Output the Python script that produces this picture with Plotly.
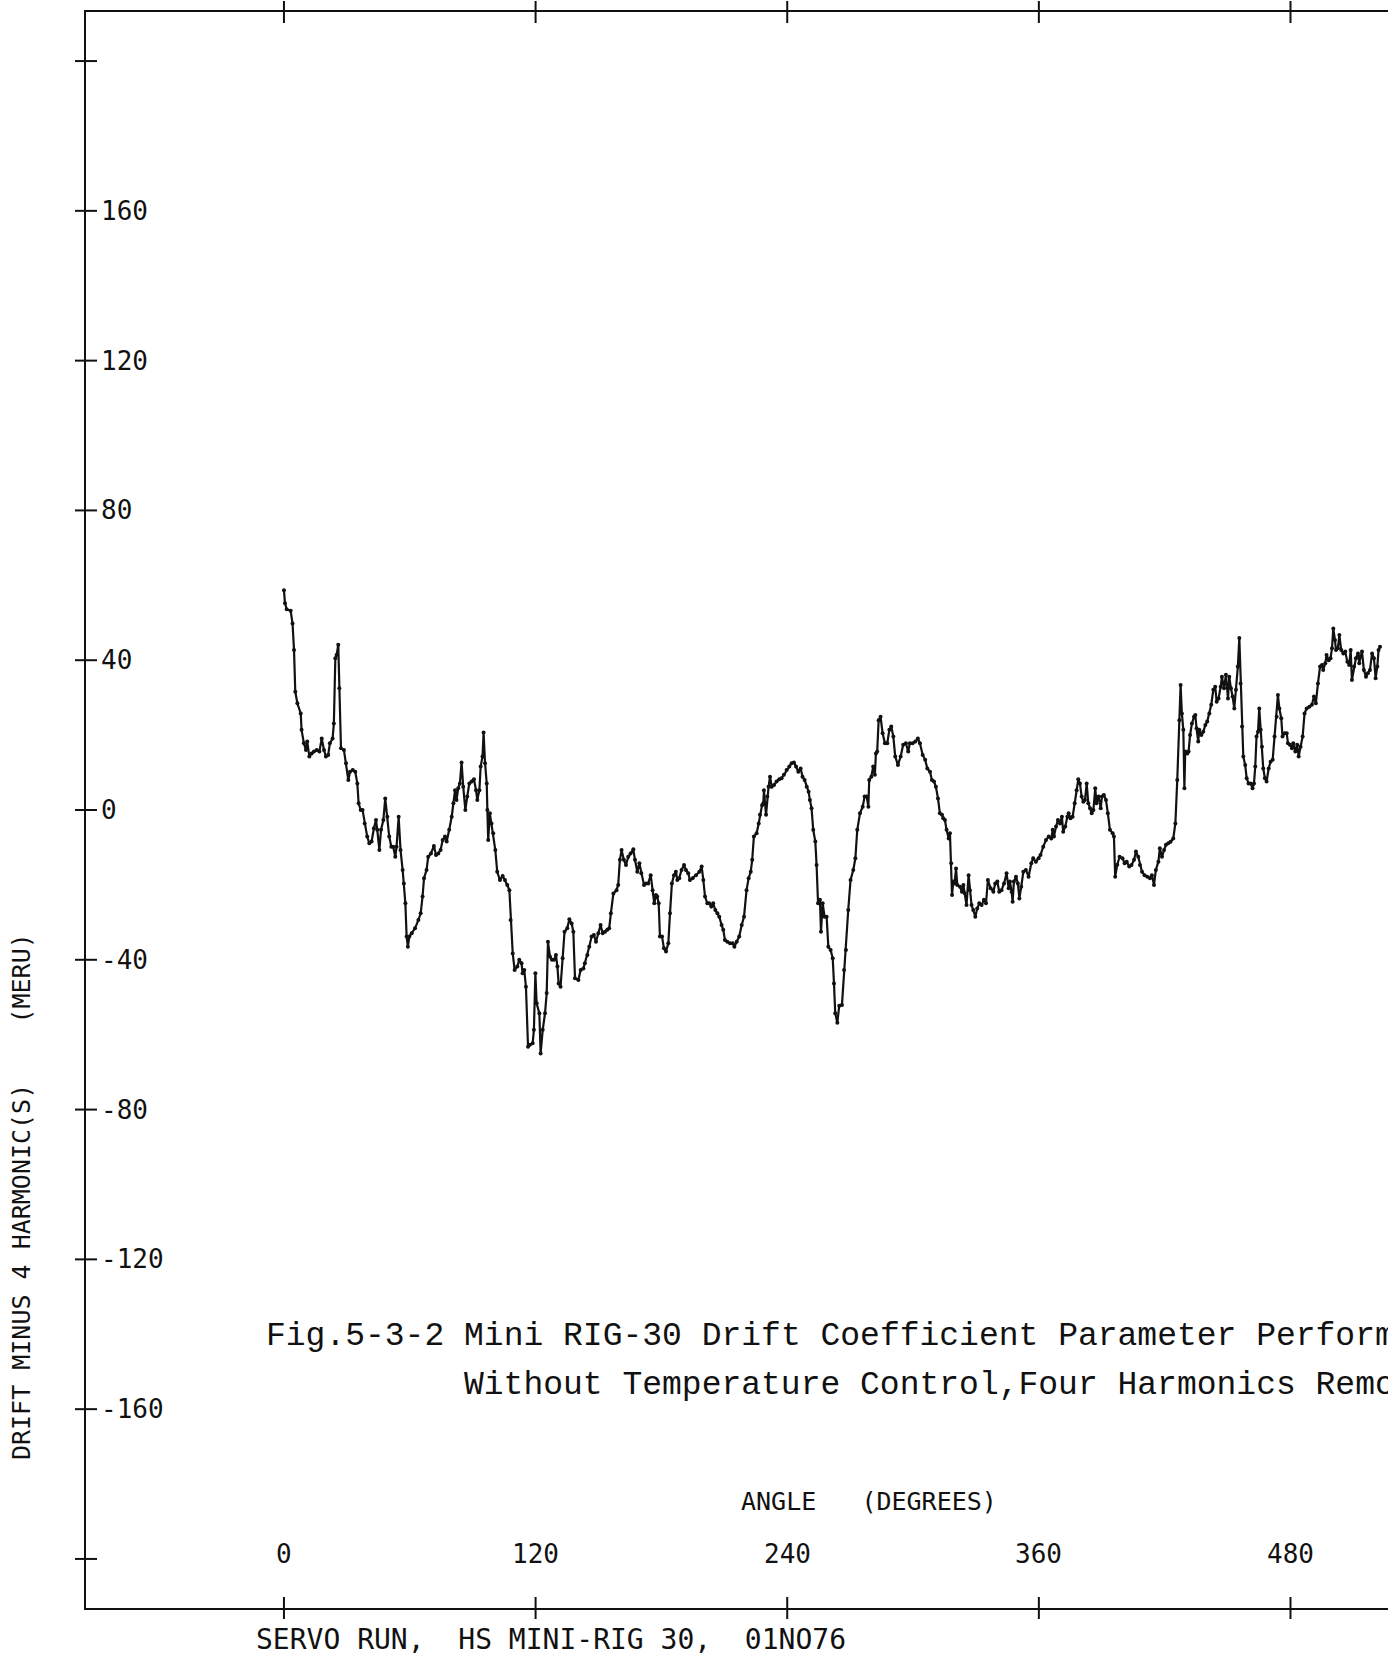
import plotly.graph_objects as go

# ---- data (angle in degrees, drift in MERU) ----
ANGLE_DEG = [
    0.0, 0.5, 1.3, 3.2, 4.1, 4.8, 5.4, 6.4, 8.0, 8.4, 9.5, 10.5, 11.1, 12.1, 13.2, 14.3, 15.6, 16.9, 18.0, 19.1,
    20.0, 21.1, 21.9, 23.2, 23.8, 24.5, 25.1, 25.9, 26.4, 27.2, 28.6, 29.6, 30.7, 31.5, 32.8, 34.0, 35.0, 35.6, 36.6, 37.5,
    38.5, 39.7, 40.7, 41.8, 42.9, 43.9, 44.5, 45.5, 46.3, 47.4, 48.3, 49.3, 50.2, 51.2, 52.1, 53.1, 53.7, 54.7, 55.6, 56.6,
    57.2, 57.9, 58.5, 59.1, 59.8, 60.9, 62.5, 64.1, 65.2, 66.1, 66.8, 68.0, 68.8, 70.1, 71.5, 72.5, 73.6, 74.7, 75.7, 76.8,
    77.6, 78.8, 80.0, 80.8, 81.6, 82.3, 83.1, 83.9, 84.7, 85.5, 86.5, 87.4, 88.4, 89.5, 90.6, 91.6, 92.2, 93.2, 93.8, 94.7,
    95.2, 95.9, 96.7, 97.0, 97.4, 98.2, 99.0, 99.8, 100.8, 101.7, 103.0, 104.3, 105.4, 106.5, 107.5, 108.1, 109.1, 110.0, 111.3, 112.2,
    113.3, 113.8, 114.6, 115.4, 116.4, 117.3, 118.6, 119.2, 119.9, 120.5, 121.8, 122.4, 123.4, 124.5, 125.3, 125.9, 126.9, 127.8, 128.8, 129.7,
    130.4, 131.0, 131.9, 132.9, 133.8, 135.1, 136.1, 137.2, 138.0, 138.8, 140.4, 141.5, 142.8, 143.5, 144.7, 145.6, 146.7, 147.8, 148.8, 149.9,
    151.0, 152.0, 153.1, 154.2, 155.1, 155.9, 157.1, 158.6, 159.4, 160.2, 161.0, 162.1, 163.1, 164.2, 165.3, 166.6, 167.4, 168.5, 169.5, 170.4,
    171.7, 172.6, 173.7, 174.9, 175.8, 176.6, 177.4, 178.0, 178.7, 179.3, 180.3, 181.2, 182.2, 183.3, 184.1, 185.0, 186.0, 186.9, 187.6, 188.5,
    189.6, 190.8, 191.7, 192.8, 193.6, 194.9, 196.5, 198.1, 199.2, 200.0, 200.8, 201.9, 202.8, 203.8, 204.7, 205.7, 206.7, 207.6, 208.7, 209.5,
    210.3, 211.4, 212.7, 214.0, 214.8, 215.9, 217.1, 218.3, 219.4, 220.6, 221.6, 222.6, 223.3, 224.1, 225.4, 226.4, 227.0, 228.0, 228.6, 228.9,
    229.9, 230.5, 231.1, 231.8, 232.6, 233.7, 234.9, 236.2, 237.3, 238.4, 239.7, 241.0, 242.1, 243.2, 244.2, 245.3, 246.4, 247.3, 248.3, 249.3,
    250.2, 250.8, 251.6, 252.4, 253.4, 254.0, 254.7, 255.6, 256.1, 256.9, 257.8, 258.8, 259.6, 260.7, 261.7, 262.3, 262.9, 263.9, 264.8, 266.1,
    267.1, 268.0, 269.1, 270.2, 271.5, 272.5, 273.4, 274.7, 276.0, 276.9, 277.9, 278.7, 279.1, 280.1, 281.0, 281.8, 282.3, 282.9, 283.6, 284.5,
    285.5, 286.6, 287.7, 288.7, 289.6, 290.6, 291.5, 292.8, 294.1, 295.3, 296.6, 297.7, 298.5, 299.8, 301.1, 302.3, 303.3, 304.6, 305.8, 306.8,
    308.1, 309.0, 310.0, 310.9, 311.9, 312.8, 313.8, 314.4, 315.2, 316.0, 317.0, 317.6, 318.2, 318.6, 319.2, 319.8, 320.5, 321.1, 322.4, 323.3,
    324.0, 324.6, 325.5, 326.5, 327.1, 327.9, 328.7, 329.7, 330.6, 331.6, 332.7, 333.8, 334.8, 335.7, 337.0, 338.3, 339.2, 340.2, 341.1, 342.2,
    343.4, 344.6, 345.6, 346.2, 347.0, 347.5, 348.1, 349.1, 350.0, 350.7, 351.6, 352.6, 353.8, 355.1, 356.4, 357.3, 358.6, 359.9, 360.8, 362.1,
    363.4, 364.7, 365.9, 366.6, 367.2, 368.2, 369.1, 370.1, 371.0, 371.6, 372.6, 373.6, 374.2, 375.1, 376.1, 377.1, 378.0, 378.8, 379.6, 380.4,
    381.2, 382.0, 382.8, 383.6, 384.4, 385.2, 386.0, 386.9, 387.5, 388.5, 389.5, 390.1, 391.0, 392.0, 392.9, 393.9, 395.2, 395.8, 396.4, 397.4,
    398.5, 399.9, 400.9, 401.9, 403.1, 404.2, 405.4, 406.3, 407.4, 408.2, 409.2, 410.4, 411.7, 413.0, 413.9, 414.9, 415.8, 417.0, 417.7, 418.7,
    419.7, 420.6, 421.7, 422.8, 424.1, 425.1, 426.0, 427.0, 427.6, 428.2, 428.9, 429.4, 429.8, 430.8, 431.4, 432.1, 433.0, 434.0, 434.6, 435.2,
    436.0, 436.5, 437.5, 438.4, 439.4, 440.3, 441.3, 442.2, 443.2, 444.1, 444.8, 445.7, 446.7, 447.3, 448.3, 449.2, 450.2, 450.8, 451.6, 452.4,
    453.2, 454.0, 454.9, 455.6, 456.2, 456.9, 457.5, 458.4, 459.1, 460.0, 461.0, 461.9, 462.6, 463.2, 463.8, 464.5, 465.1, 465.8, 466.4, 467.0,
    467.8, 468.6, 469.6, 470.5, 471.5, 472.4, 473.4, 474.0, 474.7, 475.6, 476.2, 477.2, 478.2, 478.8, 479.7, 480.7, 481.3, 482.3, 483.2, 483.9,
    484.8, 485.8, 486.7, 487.7, 489.0, 490.2, 491.2, 492.1, 493.1, 494.1, 495.0, 495.6, 496.6, 497.2, 498.2, 499.1, 499.8, 500.4, 501.2, 501.7,
    502.6, 503.3, 504.2, 505.2, 506.1, 507.1, 508.0, 508.7, 509.3, 510.3, 511.2, 512.2, 512.8, 513.4, 514.1, 515.0, 516.0, 516.9, 517.9, 518.9,
    519.8, 520.6, 521.4, 522.0, 522.7,
]

DRIFT_MERU = [
    58.7, 55.2, 53.6, 53.2, 49.8, 42.7, 31.6, 28.5, 25.8, 21.4, 17.8, 16.0, 18.3, 14.3, 15.1, 15.6, 16.0, 15.6, 19.1, 16.0,
    14.3, 14.7, 17.8, 19.1, 23.1, 40.5, 41.4, 44.1, 32.5, 16.5, 16.0, 12.5, 8.0, 10.2, 10.7, 10.2, 7.1, 1.8, 0.0, 0.0,
    -3.6, -7.1, -8.9, -8.4, -4.9, -2.7, -5.3, -10.7, -5.3, -2.7, 3.1, -1.8, -7.1, -9.8, -9.8, -12.5, -9.8, -1.8, -10.7, -16.0,
    -19.6, -24.9, -33.8, -36.5, -33.8, -32.9, -31.6, -29.4, -27.6, -23.1, -18.2, -16.0, -12.5, -11.6, -9.6, -12.0, -11.6, -10.7, -8.0, -7.1,
    -8.4, -5.3, -1.8, 1.8, 5.3, 2.7, 5.8, 7.1, 12.7, 6.2, 0.0, 3.6, 7.1, 7.6, 8.2, 5.3, 2.7, 5.3, 11.6, 14.3,
    20.7, 12.5, 7.1, 0.0, -8.0, -0.9, -3.6, -6.2, -10.7, -16.5, -18.7, -17.6, -18.7, -20.0, -21.4, -29.4, -38.3, -42.7, -41.8, -40.0,
    -40.9, -43.6, -42.7, -47.2, -63.2, -62.7, -62.3, -58.7, -43.6, -51.6, -54.3, -65.0, -58.7, -54.3, -48.9, -35.2, -39.2, -40.0, -40.0, -38.7,
    -41.8, -46.3, -47.2, -39.6, -32.5, -31.6, -29.2, -30.3, -32.5, -44.9, -45.4, -42.7, -42.3, -40.9, -38.7, -36.5, -33.8, -33.4, -35.2, -32.9,
    -30.7, -32.9, -32.5, -32.0, -31.6, -27.6, -22.3, -21.4, -20.0, -13.3, -10.7, -13.3, -14.7, -12.5, -11.6, -10.5, -13.3, -16.5, -14.2, -16.9,
    -20.0, -19.6, -19.6, -17.4, -21.4, -24.9, -22.7, -23.1, -24.9, -33.8, -33.8, -36.9, -37.8, -35.6, -27.6, -19.6, -17.4, -16.5, -18.7, -18.2,
    -16.0, -14.7, -16.0, -16.9, -18.7, -18.2, -17.4, -16.5, -15.1, -18.7, -23.1, -24.9, -24.9, -25.8, -24.9, -26.7, -27.6, -28.5, -30.7, -32.0,
    -34.7, -35.2, -35.6, -35.6, -36.5, -35.2, -33.8, -30.7, -28.5, -21.4, -18.2, -16.5, -13.3, -7.1, -6.2, -3.6, -1.3, 1.3, 1.8, 5.3,
    -1.3, 3.6, 6.2, 8.9, 6.2, 6.7, 7.6, 8.2, 8.5, 9.4, 10.7, 11.6, 12.5, 12.7, 11.6, 10.2, 11.1, 8.9, 8.0, 6.2,
    4.9, 2.7, 0.5, -5.3, -8.4, -14.7, -24.9, -24.0, -32.5, -24.9, -28.5, -28.5, -36.5, -37.4, -39.6, -46.3, -54.3, -56.8, -52.3, -52.1,
    -42.7, -37.4, -26.7, -18.7, -16.0, -12.9, -5.3, -0.9, 0.9, 3.6, 3.6, 0.9, 8.0, 8.9, 11.6, 9.4, 15.1, 15.6, 24.0, 24.9,
    20.5, 17.8, 17.8, 21.4, 22.3, 19.6, 14.3, 12.0, 14.3, 17.4, 17.8, 15.6, 17.8, 17.8, 18.3, 19.1, 17.8, 14.7, 13.4, 11.1,
    10.2, 8.0, 7.6, 6.2, 3.1, -0.9, -1.3, -2.2, -2.7, -5.3, -7.6, -6.2, -14.2, -22.7, -19.1, -19.6, -15.6, -20.0, -20.5, -21.8,
    -20.0, -22.2, -25.4, -17.4, -21.4, -25.4, -26.7, -28.5, -26.3, -24.9, -25.4, -24.0, -24.9, -18.7, -20.9, -21.8, -19.6, -19.1, -21.8, -21.4,
    -19.6, -16.9, -20.9, -19.1, -21.8, -24.5, -19.1, -17.8, -19.6, -23.6, -20.5, -16.5, -16.0, -17.8, -14.2, -12.9, -13.8, -12.9, -12.0, -9.8,
    -8.0, -7.1, -7.6, -5.3, -7.1, -4.4, -2.7, -3.6, -1.8, -5.8, -4.4, -1.8, -0.9, -2.2, -1.8, 1.8, 5.3, 8.2, 7.1, 3.6,
    2.2, 2.7, 7.1, 1.8, 0.5, -0.9, 0.0, 5.8, 1.8, 3.6, 0.5, 3.6, 4.0, 2.7, -0.9, -5.3, -6.2, -7.1, -17.8, -14.6,
    -12.5, -12.9, -14.2, -13.8, -15.1, -14.7, -13.3, -11.1, -12.5, -14.7, -16.5, -17.4, -17.8, -18.2, -17.4, -20.0, -16.0, -13.8, -10.2, -12.5,
    -10.7, -9.3, -8.9, -8.5, -7.6, -3.6, 8.0, 24.0, 33.4, 25.8, 21.4, 5.8, 15.6, 15.1, 15.6, 20.0, 23.1, 24.9, 25.4, 21.8,
    18.3, 21.4, 20.0, 20.9, 22.7, 23.6, 25.8, 28.1, 32.1, 32.9, 28.9, 29.8, 32.9, 35.6, 32.5, 36.1, 29.8, 35.6, 32.5, 30.3,
    27.1, 32.1, 38.3, 45.9, 33.8, 22.3, 14.3, 12.0, 8.5, 7.1, 7.1, 5.8, 7.1, 11.6, 19.6, 20.9, 27.1, 21.4, 16.9, 11.1,
    8.5, 7.6, 11.1, 12.9, 13.4, 19.6, 24.9, 30.7, 27.1, 24.5, 19.6, 20.5, 20.5, 17.8, 17.4, 16.5, 17.8, 15.6, 17.4, 14.3,
    16.9, 19.6, 25.8, 27.1, 27.6, 28.1, 30.3, 28.5, 33.8, 38.3, 38.7, 37.4, 39.2, 41.4, 40.0, 40.5, 43.2, 48.5, 45.4, 42.7,
    43.2, 46.7, 42.7, 41.8, 42.3, 39.6, 38.7, 42.7, 34.7, 38.3, 40.5, 41.8, 39.2, 40.9, 42.3, 37.4, 35.6, 36.5, 37.4, 41.8,
    40.5, 35.2, 38.3, 42.7, 43.6,
]

X_TICKS = [0, 120, 240, 360, 480]
X_TICK_TEXT = ["0", "120", "240", "360", "480"]
Y_TICKS = [-200, -160, -120, -80, -40, 0, 40, 80, 120, 160, 200]
Y_LABELLED = [-160, -120, -80, -40, 0, 40, 80, 120, 160]
Y_TICK_TEXT = ["-160", "-120", "-80", "-40", "0", "40", "80", "120", "160"]

X_RANGE = [-94.4, 526.5]
Y_RANGE = [-213.1, 213.1]

CAPTION_1 = "Fig.5-3-2 Mini RIG-30 Drift Coefficient Parameter Performance"
CAPTION_2 = "Without Temperature Control,Four Harmonics Removed"
X_TITLE = "ANGLE\u00a0\u00a0\u00a0(DEGREES)"
Y_TITLE = "DRIFT MINUS 4 HARMONIC(S)\u00a0\u00a0\u00a0\u00a0(MERU)"
FOOTER = "SERVO RUN,\u00a0\u00a0HS MINI-RIG 30,\u00a0\u00a001NO76"

PLOT_FONT = "DejaVu Sans Mono, monospace"
TYPE_FONT = "Liberation Mono, Courier New, monospace"
INK = "#111111"

fig = go.Figure()
fig.add_trace(go.Scatter(
    x=ANGLE_DEG, y=DRIFT_MERU, mode="lines+markers",
    line=dict(color=INK, width=2.2),
    marker=dict(color=INK, size=4),
    showlegend=False, hoverinfo="skip",
))

shapes = []
for v in Y_TICKS:
    shapes.append(dict(type="line", xref="paper", xsizemode="pixel", xanchor=0, x0=-11, x1=11,
                       yref="y", y0=v, y1=v, line=dict(color=INK, width=2)))
for v in X_TICKS:
    for anchor in (0, 1):
        shapes.append(dict(type="line", xref="x", x0=v, x1=v, yref="paper", ysizemode="pixel",
                           yanchor=anchor, y0=-11, y1=11, line=dict(color=INK, width=2)))

annotations = []
for v, t in zip(Y_LABELLED, Y_TICK_TEXT):
    annotations.append(dict(text=t, xref="paper", x=0, xanchor="left", xshift=13,
                            yref="y", y=v, yanchor="middle", showarrow=False,
                            font=dict(family=PLOT_FONT, size=26, color=INK)))
for v, t in zip(X_TICKS, X_TICK_TEXT):
    annotations.append(dict(text=t, xref="x", x=v, xanchor="center",
                            yref="paper", y=0, yanchor="middle", yshift=54, showarrow=False,
                            font=dict(family=PLOT_FONT, size=26, color=INK)))

annotations += [
    dict(text=CAPTION_1, xref="paper", x=0.1367, xanchor="left", yref="paper", y=0.1704,
         yanchor="middle", showarrow=False, font=dict(family=TYPE_FONT, size=33, color=INK)),
    dict(text=CAPTION_2, xref="paper", x=0.2888, xanchor="left", yref="paper", y=0.1397,
         yanchor="middle", showarrow=False, font=dict(family=TYPE_FONT, size=33, color=INK)),
    dict(text=X_TITLE, xref="paper", x=0.6014, xanchor="center", yref="paper", y=0.0670,
         yanchor="middle", showarrow=False, font=dict(family=PLOT_FONT, size=25, color=INK)),
    dict(text=Y_TITLE, xref="paper", x=-0.0499, xanchor="center", yref="paper", y=0.2575,
         yanchor="middle", textangle=-90, showarrow=False,
         font=dict(family=PLOT_FONT, size=25, color=INK)),
    dict(text=FOOTER, xref="paper", x=0.1290, xanchor="left", yref="paper", y=-0.0195,
         yanchor="middle", showarrow=False, font=dict(family=PLOT_FONT, size=28, color=INK)),
]

fig.update_layout(
    width=1388, height=1660,
    margin=dict(l=86, r=0, t=12, b=52, pad=0),
    paper_bgcolor="white", plot_bgcolor="white",
    xaxis=dict(range=X_RANGE, showgrid=False, zeroline=False, showticklabels=False, ticks="",
               showline=True, linecolor=INK, linewidth=2, mirror=True),
    yaxis=dict(range=Y_RANGE, showgrid=False, zeroline=False, showticklabels=False, ticks="",
               showline=True, linecolor=INK, linewidth=2, mirror=False),
    shapes=shapes,
    annotations=annotations,
)

fig.write_html("out.html")
